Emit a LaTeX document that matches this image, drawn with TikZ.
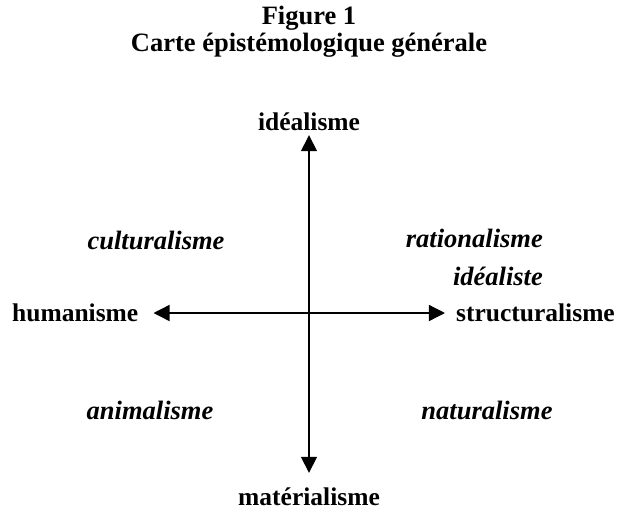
\documentclass[tikz,border=0pt]{standalone}
\usepackage{fontspec}
\setmainfont{Liberation Serif}
\usepackage{tikz}
\usetikzlibrary{arrows.meta, positioning}

\begin{document}
\begin{tikzpicture}[
  x=1pt, y=-1pt,
  every node/.style={font=\fontsize{25.5}{28}\selectfont\bfseries, inner sep=0pt},
  pole/.style={},
  titre/.style={font=\fontsize{26.5}{27}\selectfont\bfseries, align=center},
  zone/.style={font=\fontsize{26.5}{38}\selectfont\bfseries\itshape},
  axe/.style={{Triangle[length=16pt, width=16pt]}-{Triangle[length=16pt, width=16pt]},
              line width=1.4pt}
]
\useasboundingbox (0,0) rectangle (618,515);

%% title
\node[titre] (titre) at (309, 32)
  {Figure 1\\Carte épistémologique générale};

%% poles
\node[pole] (ideal) at (309, 122) {idéalisme};
\node[pole] (mater) at (309, 497) {matérialisme};
\node[pole, anchor=west] (human) at (12, 313) {humanisme};
\node[pole, anchor=east] (struct) at (615, 313) {structuralisme};

%% axes
\draw[axe, shorten <=4pt, shorten >=15pt] (ideal.south) -- (mater.north);
\draw[axe, shorten <=15pt, shorten >=11pt] (human.east) -- (struct.west);

%% quadrants
\node[zone] (cult) at (156, 240) {culturalisme};
\node[zone, align=right, anchor=north east] (ratio) at (543, 229)
  {rationalisme\\idéaliste};
\node[zone] (anim) at (150, 410) {animalisme};
\node[zone] (natur) at (487, 410) {naturalisme};

\end{tikzpicture}
\end{document}
